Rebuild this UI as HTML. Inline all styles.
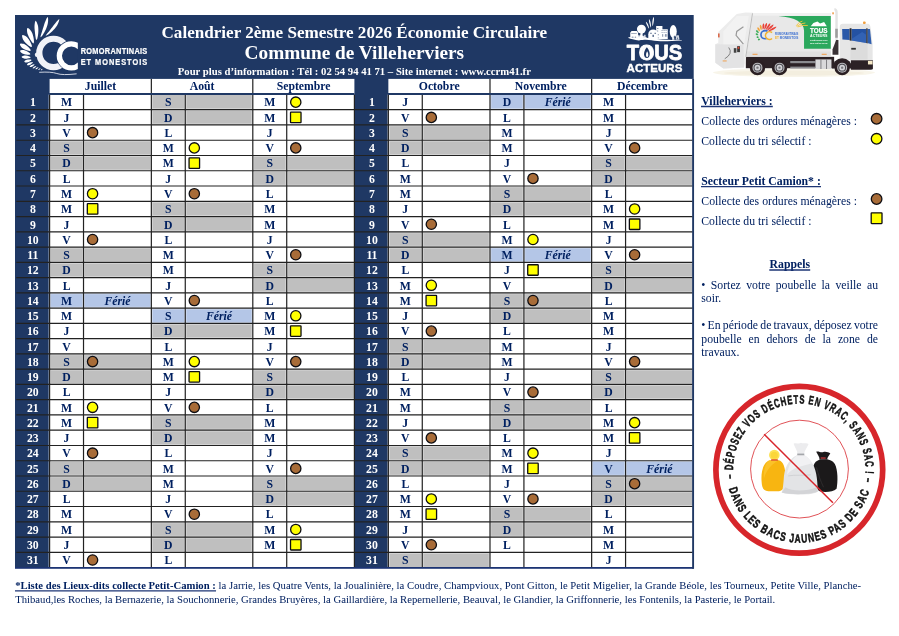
<!DOCTYPE html>
<html lang="fr">
<head>
<meta charset="utf-8">
<title>Calendrier 2ème Semestre 2026 – Commune de Villeherviers</title>
<style>
html,body{margin:0;padding:0;background:#fff}
body{width:899px;height:636px;position:relative;overflow:hidden;font-family:"Liberation Serif","DejaVu Serif",serif;color:#002060}
svg{position:absolute;left:0;top:0;display:block}
svg text{font-family:"Liberation Serif","DejaVu Serif",serif;font-size:11.745px}
svg text.b,svg tspan.b{font-weight:bold}
svg text.i{font-style:italic}
svg text.c{text-anchor:middle}
svg text.s{font-family:"Liberation Sans","DejaVu Sans",sans-serif;font-weight:bold}
</style>
</head>
<body>
<svg width="899" height="636" viewBox="0 0 899 636">
<g id="calendar">
<rect x="15" y="15" width="678.7" height="553.17" fill="#1f3864"/>
<rect x="49.6" y="78.9" width="304.8" height="488.67" fill="#fff"/>
<rect x="388.35" y="78.9" width="304.75" height="488.67" fill="#fff"/>
<rect x="49.9" y="140.54" width="33.32" height="14.66" fill="#bfbfbf"/>
<rect x="83.82" y="140.54" width="67.23" height="14.66" fill="#bfbfbf"/>
<rect x="49.9" y="155.8" width="33.32" height="14.66" fill="#bfbfbf"/>
<rect x="83.82" y="155.8" width="67.23" height="14.66" fill="#bfbfbf"/>
<rect x="49.9" y="247.37" width="33.32" height="14.66" fill="#bfbfbf"/>
<rect x="83.82" y="247.37" width="67.23" height="14.66" fill="#bfbfbf"/>
<rect x="49.9" y="262.63" width="33.32" height="14.66" fill="#bfbfbf"/>
<rect x="83.82" y="262.63" width="67.23" height="14.66" fill="#bfbfbf"/>
<rect x="49.9" y="293.16" width="33.32" height="14.66" fill="#b4c6e7"/>
<rect x="83.82" y="293.16" width="67.23" height="14.66" fill="#b4c6e7"/>
<rect x="49.9" y="354.2" width="33.32" height="14.66" fill="#bfbfbf"/>
<rect x="83.82" y="354.2" width="67.23" height="14.66" fill="#bfbfbf"/>
<rect x="49.9" y="369.47" width="33.32" height="14.66" fill="#bfbfbf"/>
<rect x="83.82" y="369.47" width="67.23" height="14.66" fill="#bfbfbf"/>
<rect x="49.9" y="461.04" width="33.32" height="14.66" fill="#bfbfbf"/>
<rect x="83.82" y="461.04" width="67.23" height="14.66" fill="#bfbfbf"/>
<rect x="49.9" y="476.3" width="33.32" height="14.66" fill="#bfbfbf"/>
<rect x="83.82" y="476.3" width="67.23" height="14.66" fill="#bfbfbf"/>
<rect x="151.65" y="94.75" width="33.32" height="14.66" fill="#bfbfbf"/>
<rect x="185.57" y="94.75" width="66.93" height="14.66" fill="#bfbfbf"/>
<rect x="151.65" y="110.01" width="33.32" height="14.66" fill="#bfbfbf"/>
<rect x="185.57" y="110.01" width="66.93" height="14.66" fill="#bfbfbf"/>
<rect x="151.65" y="201.58" width="33.32" height="14.66" fill="#bfbfbf"/>
<rect x="185.57" y="201.58" width="66.93" height="14.66" fill="#bfbfbf"/>
<rect x="151.65" y="216.85" width="33.32" height="14.66" fill="#bfbfbf"/>
<rect x="185.57" y="216.85" width="66.93" height="14.66" fill="#bfbfbf"/>
<rect x="151.65" y="308.42" width="33.32" height="14.66" fill="#b4c6e7"/>
<rect x="185.57" y="308.42" width="66.93" height="14.66" fill="#b4c6e7"/>
<rect x="151.65" y="323.68" width="33.32" height="14.66" fill="#bfbfbf"/>
<rect x="185.57" y="323.68" width="66.93" height="14.66" fill="#bfbfbf"/>
<rect x="151.65" y="415.25" width="33.32" height="14.66" fill="#bfbfbf"/>
<rect x="185.57" y="415.25" width="66.93" height="14.66" fill="#bfbfbf"/>
<rect x="151.65" y="430.51" width="33.32" height="14.66" fill="#bfbfbf"/>
<rect x="185.57" y="430.51" width="66.93" height="14.66" fill="#bfbfbf"/>
<rect x="151.65" y="522.09" width="33.32" height="14.66" fill="#bfbfbf"/>
<rect x="185.57" y="522.09" width="66.93" height="14.66" fill="#bfbfbf"/>
<rect x="151.65" y="537.35" width="33.32" height="14.66" fill="#bfbfbf"/>
<rect x="185.57" y="537.35" width="66.93" height="14.66" fill="#bfbfbf"/>
<rect x="253.1" y="155.8" width="33.32" height="14.66" fill="#bfbfbf"/>
<rect x="287.02" y="155.8" width="67.08" height="14.66" fill="#bfbfbf"/>
<rect x="253.1" y="171.06" width="33.32" height="14.66" fill="#bfbfbf"/>
<rect x="287.02" y="171.06" width="67.08" height="14.66" fill="#bfbfbf"/>
<rect x="253.1" y="262.63" width="33.32" height="14.66" fill="#bfbfbf"/>
<rect x="287.02" y="262.63" width="67.08" height="14.66" fill="#bfbfbf"/>
<rect x="253.1" y="277.89" width="33.32" height="14.66" fill="#bfbfbf"/>
<rect x="287.02" y="277.89" width="67.08" height="14.66" fill="#bfbfbf"/>
<rect x="253.1" y="369.47" width="33.32" height="14.66" fill="#bfbfbf"/>
<rect x="287.02" y="369.47" width="67.08" height="14.66" fill="#bfbfbf"/>
<rect x="253.1" y="384.73" width="33.32" height="14.66" fill="#bfbfbf"/>
<rect x="287.02" y="384.73" width="67.08" height="14.66" fill="#bfbfbf"/>
<rect x="253.1" y="476.3" width="33.32" height="14.66" fill="#bfbfbf"/>
<rect x="287.02" y="476.3" width="67.08" height="14.66" fill="#bfbfbf"/>
<rect x="253.1" y="491.56" width="33.32" height="14.66" fill="#bfbfbf"/>
<rect x="287.02" y="491.56" width="67.08" height="14.66" fill="#bfbfbf"/>
<rect x="388.65" y="125.27" width="33.32" height="14.66" fill="#bfbfbf"/>
<rect x="422.57" y="125.27" width="67.13" height="14.66" fill="#bfbfbf"/>
<rect x="388.65" y="140.54" width="33.32" height="14.66" fill="#bfbfbf"/>
<rect x="422.57" y="140.54" width="67.13" height="14.66" fill="#bfbfbf"/>
<rect x="388.65" y="232.11" width="33.32" height="14.66" fill="#bfbfbf"/>
<rect x="422.57" y="232.11" width="67.13" height="14.66" fill="#bfbfbf"/>
<rect x="388.65" y="247.37" width="33.32" height="14.66" fill="#bfbfbf"/>
<rect x="422.57" y="247.37" width="67.13" height="14.66" fill="#bfbfbf"/>
<rect x="388.65" y="338.94" width="33.32" height="14.66" fill="#bfbfbf"/>
<rect x="422.57" y="338.94" width="67.13" height="14.66" fill="#bfbfbf"/>
<rect x="388.65" y="354.2" width="33.32" height="14.66" fill="#bfbfbf"/>
<rect x="422.57" y="354.2" width="67.13" height="14.66" fill="#bfbfbf"/>
<rect x="388.65" y="445.78" width="33.32" height="14.66" fill="#bfbfbf"/>
<rect x="422.57" y="445.78" width="67.13" height="14.66" fill="#bfbfbf"/>
<rect x="388.65" y="461.04" width="33.32" height="14.66" fill="#bfbfbf"/>
<rect x="422.57" y="461.04" width="67.13" height="14.66" fill="#bfbfbf"/>
<rect x="388.65" y="552.61" width="33.32" height="14.66" fill="#bfbfbf"/>
<rect x="422.57" y="552.61" width="67.13" height="14.66" fill="#bfbfbf"/>
<rect x="490.3" y="94.75" width="33.32" height="14.66" fill="#b4c6e7"/>
<rect x="524.22" y="94.75" width="67.13" height="14.66" fill="#b4c6e7"/>
<rect x="490.3" y="186.32" width="33.32" height="14.66" fill="#bfbfbf"/>
<rect x="524.22" y="186.32" width="67.13" height="14.66" fill="#bfbfbf"/>
<rect x="490.3" y="201.58" width="33.32" height="14.66" fill="#bfbfbf"/>
<rect x="524.22" y="201.58" width="67.13" height="14.66" fill="#bfbfbf"/>
<rect x="490.3" y="247.37" width="33.32" height="14.66" fill="#b4c6e7"/>
<rect x="524.22" y="247.37" width="67.13" height="14.66" fill="#b4c6e7"/>
<rect x="490.3" y="293.16" width="33.32" height="14.66" fill="#bfbfbf"/>
<rect x="524.22" y="293.16" width="67.13" height="14.66" fill="#bfbfbf"/>
<rect x="490.3" y="308.42" width="33.32" height="14.66" fill="#bfbfbf"/>
<rect x="524.22" y="308.42" width="67.13" height="14.66" fill="#bfbfbf"/>
<rect x="490.3" y="399.99" width="33.32" height="14.66" fill="#bfbfbf"/>
<rect x="524.22" y="399.99" width="67.13" height="14.66" fill="#bfbfbf"/>
<rect x="490.3" y="415.25" width="33.32" height="14.66" fill="#bfbfbf"/>
<rect x="524.22" y="415.25" width="67.13" height="14.66" fill="#bfbfbf"/>
<rect x="490.3" y="506.82" width="33.32" height="14.66" fill="#bfbfbf"/>
<rect x="524.22" y="506.82" width="67.13" height="14.66" fill="#bfbfbf"/>
<rect x="490.3" y="522.09" width="33.32" height="14.66" fill="#bfbfbf"/>
<rect x="524.22" y="522.09" width="67.13" height="14.66" fill="#bfbfbf"/>
<rect x="591.95" y="155.8" width="33.32" height="14.66" fill="#bfbfbf"/>
<rect x="625.87" y="155.8" width="66.93" height="14.66" fill="#bfbfbf"/>
<rect x="591.95" y="171.06" width="33.32" height="14.66" fill="#bfbfbf"/>
<rect x="625.87" y="171.06" width="66.93" height="14.66" fill="#bfbfbf"/>
<rect x="591.95" y="262.63" width="33.32" height="14.66" fill="#bfbfbf"/>
<rect x="625.87" y="262.63" width="66.93" height="14.66" fill="#bfbfbf"/>
<rect x="591.95" y="277.89" width="33.32" height="14.66" fill="#bfbfbf"/>
<rect x="625.87" y="277.89" width="66.93" height="14.66" fill="#bfbfbf"/>
<rect x="591.95" y="369.47" width="33.32" height="14.66" fill="#bfbfbf"/>
<rect x="625.87" y="369.47" width="66.93" height="14.66" fill="#bfbfbf"/>
<rect x="591.95" y="384.73" width="33.32" height="14.66" fill="#bfbfbf"/>
<rect x="625.87" y="384.73" width="66.93" height="14.66" fill="#bfbfbf"/>
<rect x="591.95" y="461.04" width="33.32" height="14.66" fill="#b4c6e7"/>
<rect x="625.87" y="461.04" width="66.93" height="14.66" fill="#b4c6e7"/>
<rect x="591.95" y="476.3" width="33.32" height="14.66" fill="#bfbfbf"/>
<rect x="625.87" y="476.3" width="66.93" height="14.66" fill="#bfbfbf"/>
<rect x="591.95" y="491.56" width="33.32" height="14.66" fill="#bfbfbf"/>
<rect x="625.87" y="491.56" width="66.93" height="14.66" fill="#bfbfbf"/>
<path d="M49.6 109.71H354.4M388.35 109.71H693.1M49.6 124.97H354.4M388.35 124.97H693.1M49.6 140.24H354.4M388.35 140.24H693.1M49.6 155.5H354.4M388.35 155.5H693.1M49.6 170.76H354.4M388.35 170.76H693.1M49.6 186.02H354.4M388.35 186.02H693.1M49.6 201.28H354.4M388.35 201.28H693.1M49.6 216.55H354.4M388.35 216.55H693.1M49.6 231.81H354.4M388.35 231.81H693.1M49.6 247.07H354.4M388.35 247.07H693.1M49.6 262.33H354.4M388.35 262.33H693.1M49.6 277.59H354.4M388.35 277.59H693.1M49.6 292.86H354.4M388.35 292.86H693.1M49.6 308.12H354.4M388.35 308.12H693.1M49.6 323.38H354.4M388.35 323.38H693.1M49.6 338.64H354.4M388.35 338.64H693.1M49.6 353.9H354.4M388.35 353.9H693.1M49.6 369.17H354.4M388.35 369.17H693.1M49.6 384.43H354.4M388.35 384.43H693.1M49.6 399.69H354.4M388.35 399.69H693.1M49.6 414.95H354.4M388.35 414.95H693.1M49.6 430.21H354.4M388.35 430.21H693.1M49.6 445.48H354.4M388.35 445.48H693.1M49.6 460.74H354.4M388.35 460.74H693.1M49.6 476H354.4M388.35 476H693.1M49.6 491.26H354.4M388.35 491.26H693.1M49.6 506.52H354.4M388.35 506.52H693.1M49.6 521.79H354.4M388.35 521.79H693.1M49.6 537.05H354.4M388.35 537.05H693.1M49.6 552.31H354.4M388.35 552.31H693.1M49.6 94.45V567.57M83.52 94.45V567.57M151.35 94.45V567.57M185.27 94.45V567.57M252.8 94.45V567.57M286.72 94.45V567.57M388.35 94.45V567.57M422.27 94.45V567.57M490 94.45V567.57M523.92 94.45V567.57M591.65 94.45V567.57M625.57 94.45V567.57" stroke="#fff" stroke-opacity="0.4" stroke-width="2.7" fill="none"/>
<path d="M16.3 109.71H692.7M16.3 124.97H692.7M16.3 140.24H692.7M16.3 155.5H692.7M16.3 170.76H692.7M16.3 186.02H692.7M16.3 201.28H692.7M16.3 216.55H692.7M16.3 231.81H692.7M16.3 247.07H692.7M16.3 262.33H692.7M16.3 277.59H692.7M16.3 292.86H692.7M16.3 308.12H692.7M16.3 323.38H692.7M16.3 338.64H692.7M16.3 353.9H692.7M16.3 369.17H692.7M16.3 384.43H692.7M16.3 399.69H692.7M16.3 414.95H692.7M16.3 430.21H692.7M16.3 445.48H692.7M16.3 460.74H692.7M16.3 476H692.7M16.3 491.26H692.7M16.3 506.52H692.7M16.3 521.79H692.7M16.3 537.05H692.7M16.3 552.31H692.7" stroke="#222222" stroke-width="1.2" fill="none"/>
<path d="M49.6 94.45V567.57M83.52 94.45V567.57M151.35 78.9V567.57M185.27 94.45V567.57M252.8 78.9V567.57M286.72 94.45V567.57M388.35 94.45V567.57M422.27 94.45V567.57M490 78.9V567.57M523.92 94.45V567.57M591.65 78.9V567.57M625.57 94.45V567.57M354.4 94.45V567.57" stroke="#222222" stroke-width="1.2" fill="none"/>
<path d="M49.1 94H354.4M387.85 94H693.7" stroke="#1f3864" stroke-width="2" fill="none"/>
<path d="M15 567.87H693.7" stroke="#1c3474" stroke-width="1.8" fill="none"/>
<path d="M693.1 78.9V568.77" stroke="#1f3864" stroke-width="1.9" fill="none"/>
<text x="100.47" y="90.2" class="b c" fill="#002060">Juillet</text>
<text x="202.07" y="90.2" class="b c" fill="#002060">Août</text>
<text x="303.6" y="90.2" class="b c" fill="#002060">Septembre</text>
<text x="439.18" y="90.2" class="b c" fill="#002060">Octobre</text>
<text x="540.83" y="90.2" class="b c" fill="#002060">Novembre</text>
<text x="642.38" y="90.2" class="b c" fill="#002060">Décembre</text>
<text x="32.85" y="106.4" class="b c" fill="#fff">1</text>
<text x="32.85" y="121.66" class="b c" fill="#fff">2</text>
<text x="32.85" y="136.92" class="b c" fill="#fff">3</text>
<text x="32.85" y="152.19" class="b c" fill="#fff">4</text>
<text x="32.85" y="167.45" class="b c" fill="#fff">5</text>
<text x="32.85" y="182.71" class="b c" fill="#fff">6</text>
<text x="32.85" y="197.97" class="b c" fill="#fff">7</text>
<text x="32.85" y="213.23" class="b c" fill="#fff">8</text>
<text x="32.85" y="228.5" class="b c" fill="#fff">9</text>
<text x="32.85" y="243.76" class="b c" fill="#fff">10</text>
<text x="32.85" y="259.02" class="b c" fill="#fff">11</text>
<text x="32.85" y="274.28" class="b c" fill="#fff">12</text>
<text x="32.85" y="289.54" class="b c" fill="#fff">13</text>
<text x="32.85" y="304.81" class="b c" fill="#fff">14</text>
<text x="32.85" y="320.07" class="b c" fill="#fff">15</text>
<text x="32.85" y="335.33" class="b c" fill="#fff">16</text>
<text x="32.85" y="350.59" class="b c" fill="#fff">17</text>
<text x="32.85" y="365.85" class="b c" fill="#fff">18</text>
<text x="32.85" y="381.12" class="b c" fill="#fff">19</text>
<text x="32.85" y="396.38" class="b c" fill="#fff">20</text>
<text x="32.85" y="411.64" class="b c" fill="#fff">21</text>
<text x="32.85" y="426.9" class="b c" fill="#fff">22</text>
<text x="32.85" y="442.16" class="b c" fill="#fff">23</text>
<text x="32.85" y="457.43" class="b c" fill="#fff">24</text>
<text x="32.85" y="472.69" class="b c" fill="#fff">25</text>
<text x="32.85" y="487.95" class="b c" fill="#fff">26</text>
<text x="32.85" y="503.21" class="b c" fill="#fff">27</text>
<text x="32.85" y="518.47" class="b c" fill="#fff">28</text>
<text x="32.85" y="533.74" class="b c" fill="#fff">29</text>
<text x="32.85" y="549" class="b c" fill="#fff">30</text>
<text x="32.85" y="564.26" class="b c" fill="#fff">31</text>
<text x="371.93" y="106.4" class="b c" fill="#fff">1</text>
<text x="371.93" y="121.66" class="b c" fill="#fff">2</text>
<text x="371.93" y="136.92" class="b c" fill="#fff">3</text>
<text x="371.93" y="152.19" class="b c" fill="#fff">4</text>
<text x="371.93" y="167.45" class="b c" fill="#fff">5</text>
<text x="371.93" y="182.71" class="b c" fill="#fff">6</text>
<text x="371.93" y="197.97" class="b c" fill="#fff">7</text>
<text x="371.93" y="213.23" class="b c" fill="#fff">8</text>
<text x="371.93" y="228.5" class="b c" fill="#fff">9</text>
<text x="371.93" y="243.76" class="b c" fill="#fff">10</text>
<text x="371.93" y="259.02" class="b c" fill="#fff">11</text>
<text x="371.93" y="274.28" class="b c" fill="#fff">12</text>
<text x="371.93" y="289.54" class="b c" fill="#fff">13</text>
<text x="371.93" y="304.81" class="b c" fill="#fff">14</text>
<text x="371.93" y="320.07" class="b c" fill="#fff">15</text>
<text x="371.93" y="335.33" class="b c" fill="#fff">16</text>
<text x="371.93" y="350.59" class="b c" fill="#fff">17</text>
<text x="371.93" y="365.85" class="b c" fill="#fff">18</text>
<text x="371.93" y="381.12" class="b c" fill="#fff">19</text>
<text x="371.93" y="396.38" class="b c" fill="#fff">20</text>
<text x="371.93" y="411.64" class="b c" fill="#fff">21</text>
<text x="371.93" y="426.9" class="b c" fill="#fff">22</text>
<text x="371.93" y="442.16" class="b c" fill="#fff">23</text>
<text x="371.93" y="457.43" class="b c" fill="#fff">24</text>
<text x="371.93" y="472.69" class="b c" fill="#fff">25</text>
<text x="371.93" y="487.95" class="b c" fill="#fff">26</text>
<text x="371.93" y="503.21" class="b c" fill="#fff">27</text>
<text x="371.93" y="518.47" class="b c" fill="#fff">28</text>
<text x="371.93" y="533.74" class="b c" fill="#fff">29</text>
<text x="371.93" y="549" class="b c" fill="#fff">30</text>
<text x="371.93" y="564.26" class="b c" fill="#fff">31</text>
<text x="66.56" y="106.4" class="b c" fill="#002060">M</text>
<text x="66.56" y="121.66" class="b c" fill="#002060">J</text>
<text x="66.56" y="136.92" class="b c" fill="#002060">V</text>
<circle cx="92.57" cy="132.66" r="5.15" fill="#a86c38" stroke="#0d0d12" stroke-width="1.3"/>
<text x="66.56" y="152.19" class="b c" fill="#002060">S</text>
<text x="66.56" y="167.45" class="b c" fill="#002060">D</text>
<text x="66.56" y="182.71" class="b c" fill="#002060">L</text>
<text x="66.56" y="197.97" class="b c" fill="#002060">M</text>
<circle cx="92.57" cy="193.7" r="5.15" fill="#ffff00" stroke="#0d0d12" stroke-width="1.3"/>
<text x="66.56" y="213.23" class="b c" fill="#002060">M</text>
<rect x="87.32" y="203.72" width="10.5" height="10.5" rx="0.5" fill="#ffff00" stroke="#0d0d12" stroke-width="1.3"/>
<text x="66.56" y="228.5" class="b c" fill="#002060">J</text>
<text x="66.56" y="243.76" class="b c" fill="#002060">V</text>
<circle cx="92.57" cy="239.49" r="5.15" fill="#a86c38" stroke="#0d0d12" stroke-width="1.3"/>
<text x="66.56" y="259.02" class="b c" fill="#002060">S</text>
<text x="66.56" y="274.28" class="b c" fill="#002060">D</text>
<text x="66.56" y="289.54" class="b c" fill="#002060">L</text>
<text x="66.56" y="304.81" class="b c" fill="#002060">M</text>
<text x="117.44" y="304.81" class="b i c" fill="#002060">Férié</text>
<text x="66.56" y="320.07" class="b c" fill="#002060">M</text>
<text x="66.56" y="335.33" class="b c" fill="#002060">J</text>
<text x="66.56" y="350.59" class="b c" fill="#002060">V</text>
<text x="66.56" y="365.85" class="b c" fill="#002060">S</text>
<circle cx="92.57" cy="361.58" r="5.15" fill="#a86c38" stroke="#0d0d12" stroke-width="1.3"/>
<text x="66.56" y="381.12" class="b c" fill="#002060">D</text>
<text x="66.56" y="396.38" class="b c" fill="#002060">L</text>
<text x="66.56" y="411.64" class="b c" fill="#002060">M</text>
<circle cx="92.57" cy="407.37" r="5.15" fill="#ffff00" stroke="#0d0d12" stroke-width="1.3"/>
<text x="66.56" y="426.9" class="b c" fill="#002060">M</text>
<rect x="87.32" y="417.38" width="10.5" height="10.5" rx="0.5" fill="#ffff00" stroke="#0d0d12" stroke-width="1.3"/>
<text x="66.56" y="442.16" class="b c" fill="#002060">J</text>
<text x="66.56" y="457.43" class="b c" fill="#002060">V</text>
<circle cx="92.57" cy="453.16" r="5.15" fill="#a86c38" stroke="#0d0d12" stroke-width="1.3"/>
<text x="66.56" y="472.69" class="b c" fill="#002060">S</text>
<text x="66.56" y="487.95" class="b c" fill="#002060">D</text>
<text x="66.56" y="503.21" class="b c" fill="#002060">L</text>
<text x="66.56" y="518.47" class="b c" fill="#002060">M</text>
<text x="66.56" y="533.74" class="b c" fill="#002060">M</text>
<text x="66.56" y="549" class="b c" fill="#002060">J</text>
<text x="66.56" y="564.26" class="b c" fill="#002060">V</text>
<circle cx="92.57" cy="559.99" r="5.15" fill="#a86c38" stroke="#0d0d12" stroke-width="1.3"/>
<text x="168.31" y="106.4" class="b c" fill="#002060">S</text>
<text x="168.31" y="121.66" class="b c" fill="#002060">D</text>
<text x="168.31" y="136.92" class="b c" fill="#002060">L</text>
<text x="168.31" y="152.19" class="b c" fill="#002060">M</text>
<circle cx="194.32" cy="147.92" r="5.15" fill="#ffff00" stroke="#0d0d12" stroke-width="1.3"/>
<text x="168.31" y="167.45" class="b c" fill="#002060">M</text>
<rect x="189.07" y="157.93" width="10.5" height="10.5" rx="0.5" fill="#ffff00" stroke="#0d0d12" stroke-width="1.3"/>
<text x="168.31" y="182.71" class="b c" fill="#002060">J</text>
<text x="168.31" y="197.97" class="b c" fill="#002060">V</text>
<circle cx="194.32" cy="193.7" r="5.15" fill="#a86c38" stroke="#0d0d12" stroke-width="1.3"/>
<text x="168.31" y="213.23" class="b c" fill="#002060">S</text>
<text x="168.31" y="228.5" class="b c" fill="#002060">D</text>
<text x="168.31" y="243.76" class="b c" fill="#002060">L</text>
<text x="168.31" y="259.02" class="b c" fill="#002060">M</text>
<text x="168.31" y="274.28" class="b c" fill="#002060">M</text>
<text x="168.31" y="289.54" class="b c" fill="#002060">J</text>
<text x="168.31" y="304.81" class="b c" fill="#002060">V</text>
<circle cx="194.32" cy="300.54" r="5.15" fill="#a86c38" stroke="#0d0d12" stroke-width="1.3"/>
<text x="168.31" y="320.07" class="b c" fill="#002060">S</text>
<text x="219.03" y="320.07" class="b i c" fill="#002060">Férié</text>
<text x="168.31" y="335.33" class="b c" fill="#002060">D</text>
<text x="168.31" y="350.59" class="b c" fill="#002060">L</text>
<text x="168.31" y="365.85" class="b c" fill="#002060">M</text>
<circle cx="194.32" cy="361.58" r="5.15" fill="#ffff00" stroke="#0d0d12" stroke-width="1.3"/>
<text x="168.31" y="381.12" class="b c" fill="#002060">M</text>
<rect x="189.07" y="371.6" width="10.5" height="10.5" rx="0.5" fill="#ffff00" stroke="#0d0d12" stroke-width="1.3"/>
<text x="168.31" y="396.38" class="b c" fill="#002060">J</text>
<text x="168.31" y="411.64" class="b c" fill="#002060">V</text>
<circle cx="194.32" cy="407.37" r="5.15" fill="#a86c38" stroke="#0d0d12" stroke-width="1.3"/>
<text x="168.31" y="426.9" class="b c" fill="#002060">S</text>
<text x="168.31" y="442.16" class="b c" fill="#002060">D</text>
<text x="168.31" y="457.43" class="b c" fill="#002060">L</text>
<text x="168.31" y="472.69" class="b c" fill="#002060">M</text>
<text x="168.31" y="487.95" class="b c" fill="#002060">M</text>
<text x="168.31" y="503.21" class="b c" fill="#002060">J</text>
<text x="168.31" y="518.47" class="b c" fill="#002060">V</text>
<circle cx="194.32" cy="514.2" r="5.15" fill="#a86c38" stroke="#0d0d12" stroke-width="1.3"/>
<text x="168.31" y="533.74" class="b c" fill="#002060">S</text>
<text x="168.31" y="549" class="b c" fill="#002060">D</text>
<text x="168.31" y="564.26" class="b c" fill="#002060">L</text>
<text x="269.76" y="106.4" class="b c" fill="#002060">M</text>
<circle cx="295.77" cy="102.13" r="5.15" fill="#ffff00" stroke="#0d0d12" stroke-width="1.3"/>
<text x="269.76" y="121.66" class="b c" fill="#002060">M</text>
<rect x="290.52" y="112.14" width="10.5" height="10.5" rx="0.5" fill="#ffff00" stroke="#0d0d12" stroke-width="1.3"/>
<text x="269.76" y="136.92" class="b c" fill="#002060">J</text>
<text x="269.76" y="152.19" class="b c" fill="#002060">V</text>
<circle cx="295.77" cy="147.92" r="5.15" fill="#a86c38" stroke="#0d0d12" stroke-width="1.3"/>
<text x="269.76" y="167.45" class="b c" fill="#002060">S</text>
<text x="269.76" y="182.71" class="b c" fill="#002060">D</text>
<text x="269.76" y="197.97" class="b c" fill="#002060">L</text>
<text x="269.76" y="213.23" class="b c" fill="#002060">M</text>
<text x="269.76" y="228.5" class="b c" fill="#002060">M</text>
<text x="269.76" y="243.76" class="b c" fill="#002060">J</text>
<text x="269.76" y="259.02" class="b c" fill="#002060">V</text>
<circle cx="295.77" cy="254.75" r="5.15" fill="#a86c38" stroke="#0d0d12" stroke-width="1.3"/>
<text x="269.76" y="274.28" class="b c" fill="#002060">S</text>
<text x="269.76" y="289.54" class="b c" fill="#002060">D</text>
<text x="269.76" y="304.81" class="b c" fill="#002060">L</text>
<text x="269.76" y="320.07" class="b c" fill="#002060">M</text>
<circle cx="295.77" cy="315.8" r="5.15" fill="#ffff00" stroke="#0d0d12" stroke-width="1.3"/>
<text x="269.76" y="335.33" class="b c" fill="#002060">M</text>
<rect x="290.52" y="325.81" width="10.5" height="10.5" rx="0.5" fill="#ffff00" stroke="#0d0d12" stroke-width="1.3"/>
<text x="269.76" y="350.59" class="b c" fill="#002060">J</text>
<text x="269.76" y="365.85" class="b c" fill="#002060">V</text>
<circle cx="295.77" cy="361.58" r="5.15" fill="#a86c38" stroke="#0d0d12" stroke-width="1.3"/>
<text x="269.76" y="381.12" class="b c" fill="#002060">S</text>
<text x="269.76" y="396.38" class="b c" fill="#002060">D</text>
<text x="269.76" y="411.64" class="b c" fill="#002060">L</text>
<text x="269.76" y="426.9" class="b c" fill="#002060">M</text>
<text x="269.76" y="442.16" class="b c" fill="#002060">M</text>
<text x="269.76" y="457.43" class="b c" fill="#002060">J</text>
<text x="269.76" y="472.69" class="b c" fill="#002060">V</text>
<circle cx="295.77" cy="468.42" r="5.15" fill="#a86c38" stroke="#0d0d12" stroke-width="1.3"/>
<text x="269.76" y="487.95" class="b c" fill="#002060">S</text>
<text x="269.76" y="503.21" class="b c" fill="#002060">D</text>
<text x="269.76" y="518.47" class="b c" fill="#002060">L</text>
<text x="269.76" y="533.74" class="b c" fill="#002060">M</text>
<circle cx="295.77" cy="529.47" r="5.15" fill="#ffff00" stroke="#0d0d12" stroke-width="1.3"/>
<text x="269.76" y="549" class="b c" fill="#002060">M</text>
<rect x="290.52" y="539.48" width="10.5" height="10.5" rx="0.5" fill="#ffff00" stroke="#0d0d12" stroke-width="1.3"/>
<text x="405.31" y="106.4" class="b c" fill="#002060">J</text>
<text x="405.31" y="121.66" class="b c" fill="#002060">V</text>
<circle cx="431.32" cy="117.39" r="5.15" fill="#a86c38" stroke="#0d0d12" stroke-width="1.3"/>
<text x="405.31" y="136.92" class="b c" fill="#002060">S</text>
<text x="405.31" y="152.19" class="b c" fill="#002060">D</text>
<text x="405.31" y="167.45" class="b c" fill="#002060">L</text>
<text x="405.31" y="182.71" class="b c" fill="#002060">M</text>
<text x="405.31" y="197.97" class="b c" fill="#002060">M</text>
<text x="405.31" y="213.23" class="b c" fill="#002060">J</text>
<text x="405.31" y="228.5" class="b c" fill="#002060">V</text>
<circle cx="431.32" cy="224.23" r="5.15" fill="#a86c38" stroke="#0d0d12" stroke-width="1.3"/>
<text x="405.31" y="243.76" class="b c" fill="#002060">S</text>
<text x="405.31" y="259.02" class="b c" fill="#002060">D</text>
<text x="405.31" y="274.28" class="b c" fill="#002060">L</text>
<text x="405.31" y="289.54" class="b c" fill="#002060">M</text>
<circle cx="431.32" cy="285.28" r="5.15" fill="#ffff00" stroke="#0d0d12" stroke-width="1.3"/>
<text x="405.31" y="304.81" class="b c" fill="#002060">M</text>
<rect x="426.07" y="295.29" width="10.5" height="10.5" rx="0.5" fill="#ffff00" stroke="#0d0d12" stroke-width="1.3"/>
<text x="405.31" y="320.07" class="b c" fill="#002060">J</text>
<text x="405.31" y="335.33" class="b c" fill="#002060">V</text>
<circle cx="431.32" cy="331.06" r="5.15" fill="#a86c38" stroke="#0d0d12" stroke-width="1.3"/>
<text x="405.31" y="350.59" class="b c" fill="#002060">S</text>
<text x="405.31" y="365.85" class="b c" fill="#002060">D</text>
<text x="405.31" y="381.12" class="b c" fill="#002060">L</text>
<text x="405.31" y="396.38" class="b c" fill="#002060">M</text>
<text x="405.31" y="411.64" class="b c" fill="#002060">M</text>
<text x="405.31" y="426.9" class="b c" fill="#002060">J</text>
<text x="405.31" y="442.16" class="b c" fill="#002060">V</text>
<circle cx="431.32" cy="437.9" r="5.15" fill="#a86c38" stroke="#0d0d12" stroke-width="1.3"/>
<text x="405.31" y="457.43" class="b c" fill="#002060">S</text>
<text x="405.31" y="472.69" class="b c" fill="#002060">D</text>
<text x="405.31" y="487.95" class="b c" fill="#002060">L</text>
<text x="405.31" y="503.21" class="b c" fill="#002060">M</text>
<circle cx="431.32" cy="498.94" r="5.15" fill="#ffff00" stroke="#0d0d12" stroke-width="1.3"/>
<text x="405.31" y="518.47" class="b c" fill="#002060">M</text>
<rect x="426.07" y="508.95" width="10.5" height="10.5" rx="0.5" fill="#ffff00" stroke="#0d0d12" stroke-width="1.3"/>
<text x="405.31" y="533.74" class="b c" fill="#002060">J</text>
<text x="405.31" y="549" class="b c" fill="#002060">V</text>
<circle cx="431.32" cy="544.73" r="5.15" fill="#a86c38" stroke="#0d0d12" stroke-width="1.3"/>
<text x="405.31" y="564.26" class="b c" fill="#002060">S</text>
<text x="506.96" y="106.4" class="b c" fill="#002060">D</text>
<text x="557.78" y="106.4" class="b i c" fill="#002060">Férié</text>
<text x="506.96" y="121.66" class="b c" fill="#002060">L</text>
<text x="506.96" y="136.92" class="b c" fill="#002060">M</text>
<text x="506.96" y="152.19" class="b c" fill="#002060">M</text>
<text x="506.96" y="167.45" class="b c" fill="#002060">J</text>
<text x="506.96" y="182.71" class="b c" fill="#002060">V</text>
<circle cx="532.97" cy="178.44" r="5.15" fill="#a86c38" stroke="#0d0d12" stroke-width="1.3"/>
<text x="506.96" y="197.97" class="b c" fill="#002060">S</text>
<text x="506.96" y="213.23" class="b c" fill="#002060">D</text>
<text x="506.96" y="228.5" class="b c" fill="#002060">L</text>
<text x="506.96" y="243.76" class="b c" fill="#002060">M</text>
<circle cx="532.97" cy="239.49" r="5.15" fill="#ffff00" stroke="#0d0d12" stroke-width="1.3"/>
<text x="506.96" y="259.02" class="b c" fill="#002060">M</text>
<text x="557.78" y="259.02" class="b i c" fill="#002060">Férié</text>
<text x="506.96" y="274.28" class="b c" fill="#002060">J</text>
<rect x="527.72" y="264.76" width="10.5" height="10.5" rx="0.5" fill="#ffff00" stroke="#0d0d12" stroke-width="1.3"/>
<text x="506.96" y="289.54" class="b c" fill="#002060">V</text>
<text x="506.96" y="304.81" class="b c" fill="#002060">S</text>
<circle cx="532.97" cy="300.54" r="5.15" fill="#a86c38" stroke="#0d0d12" stroke-width="1.3"/>
<text x="506.96" y="320.07" class="b c" fill="#002060">D</text>
<text x="506.96" y="335.33" class="b c" fill="#002060">L</text>
<text x="506.96" y="350.59" class="b c" fill="#002060">M</text>
<text x="506.96" y="365.85" class="b c" fill="#002060">M</text>
<text x="506.96" y="381.12" class="b c" fill="#002060">J</text>
<text x="506.96" y="396.38" class="b c" fill="#002060">V</text>
<circle cx="532.97" cy="392.11" r="5.15" fill="#a86c38" stroke="#0d0d12" stroke-width="1.3"/>
<text x="506.96" y="411.64" class="b c" fill="#002060">S</text>
<text x="506.96" y="426.9" class="b c" fill="#002060">D</text>
<text x="506.96" y="442.16" class="b c" fill="#002060">L</text>
<text x="506.96" y="457.43" class="b c" fill="#002060">M</text>
<circle cx="532.97" cy="453.16" r="5.15" fill="#ffff00" stroke="#0d0d12" stroke-width="1.3"/>
<text x="506.96" y="472.69" class="b c" fill="#002060">M</text>
<rect x="527.72" y="463.17" width="10.5" height="10.5" rx="0.5" fill="#ffff00" stroke="#0d0d12" stroke-width="1.3"/>
<text x="506.96" y="487.95" class="b c" fill="#002060">J</text>
<text x="506.96" y="503.21" class="b c" fill="#002060">V</text>
<circle cx="532.97" cy="498.94" r="5.15" fill="#a86c38" stroke="#0d0d12" stroke-width="1.3"/>
<text x="506.96" y="518.47" class="b c" fill="#002060">S</text>
<text x="506.96" y="533.74" class="b c" fill="#002060">D</text>
<text x="506.96" y="549" class="b c" fill="#002060">L</text>
<text x="608.61" y="106.4" class="b c" fill="#002060">M</text>
<text x="608.61" y="121.66" class="b c" fill="#002060">M</text>
<text x="608.61" y="136.92" class="b c" fill="#002060">J</text>
<text x="608.61" y="152.19" class="b c" fill="#002060">V</text>
<circle cx="634.62" cy="147.92" r="5.15" fill="#a86c38" stroke="#0d0d12" stroke-width="1.3"/>
<text x="608.61" y="167.45" class="b c" fill="#002060">S</text>
<text x="608.61" y="182.71" class="b c" fill="#002060">D</text>
<text x="608.61" y="197.97" class="b c" fill="#002060">L</text>
<text x="608.61" y="213.23" class="b c" fill="#002060">M</text>
<circle cx="634.62" cy="208.97" r="5.15" fill="#ffff00" stroke="#0d0d12" stroke-width="1.3"/>
<text x="608.61" y="228.5" class="b c" fill="#002060">M</text>
<rect x="629.37" y="218.98" width="10.5" height="10.5" rx="0.5" fill="#ffff00" stroke="#0d0d12" stroke-width="1.3"/>
<text x="608.61" y="243.76" class="b c" fill="#002060">J</text>
<text x="608.61" y="259.02" class="b c" fill="#002060">V</text>
<circle cx="634.62" cy="254.75" r="5.15" fill="#a86c38" stroke="#0d0d12" stroke-width="1.3"/>
<text x="608.61" y="274.28" class="b c" fill="#002060">S</text>
<text x="608.61" y="289.54" class="b c" fill="#002060">D</text>
<text x="608.61" y="304.81" class="b c" fill="#002060">L</text>
<text x="608.61" y="320.07" class="b c" fill="#002060">M</text>
<text x="608.61" y="335.33" class="b c" fill="#002060">M</text>
<text x="608.61" y="350.59" class="b c" fill="#002060">J</text>
<text x="608.61" y="365.85" class="b c" fill="#002060">V</text>
<circle cx="634.62" cy="361.58" r="5.15" fill="#a86c38" stroke="#0d0d12" stroke-width="1.3"/>
<text x="608.61" y="381.12" class="b c" fill="#002060">S</text>
<text x="608.61" y="396.38" class="b c" fill="#002060">D</text>
<text x="608.61" y="411.64" class="b c" fill="#002060">L</text>
<text x="608.61" y="426.9" class="b c" fill="#002060">M</text>
<circle cx="634.62" cy="422.63" r="5.15" fill="#ffff00" stroke="#0d0d12" stroke-width="1.3"/>
<text x="608.61" y="442.16" class="b c" fill="#002060">M</text>
<rect x="629.37" y="432.65" width="10.5" height="10.5" rx="0.5" fill="#ffff00" stroke="#0d0d12" stroke-width="1.3"/>
<text x="608.61" y="457.43" class="b c" fill="#002060">J</text>
<text x="608.61" y="472.69" class="b c" fill="#002060">V</text>
<text x="659.34" y="472.69" class="b i c" fill="#002060">Férié</text>
<text x="608.61" y="487.95" class="b c" fill="#002060">S</text>
<circle cx="634.62" cy="483.68" r="5.15" fill="#a86c38" stroke="#0d0d12" stroke-width="1.3"/>
<text x="608.61" y="503.21" class="b c" fill="#002060">D</text>
<text x="608.61" y="518.47" class="b c" fill="#002060">L</text>
<text x="608.61" y="533.74" class="b c" fill="#002060">M</text>
<text x="608.61" y="549" class="b c" fill="#002060">M</text>
<text x="608.61" y="564.26" class="b c" fill="#002060">J</text>
</g>
<g id="header">
<text x="354.35" y="38" class="b c" fill="#fff" style="font-size:17.1px">Calendrier 2ème Semestre 2026 Économie Circulaire</text>
<text x="354.35" y="59" class="b c" fill="#fff" style="font-size:19.3px">Commune de Villeherviers</text>
<text x="354.35" y="75" class="b c" fill="#fff" style="font-size:10.7px">Pour plus d’information : Tél : 02 54 94 41 71 – Site internet : www.ccrm41.fr</text>
<path d="M45.86 35.71L47.37 35.09L48.67 34.21L49.92 33.26L51.12 32.27L52.28 31.22L53.38 30.11L54.43 28.96L55.43 27.76L56.37 26.51L57.2 25.18L57.93 23.79L58.55 22.34L59.07 20.84L59.3 19.19L59.17 19.12L57.92 20.18L56.89 21.34L55.89 22.49L54.94 23.64L54.02 24.81L53.14 26L52.25 27.18L51.35 28.36L50.44 29.54L49.51 30.71L48.56 31.88L47.59 33.05L46.61 34.22L45.77 35.6ZM40.6 37.35L41.83 36.23L42.75 34.93L43.61 33.6L44.4 32.23L45.14 30.83L45.81 29.4L46.42 27.94L46.96 26.46L47.44 24.95L47.79 23.41L48.02 21.84L48.13 20.24L48.12 18.63L47.76 16.97L47.61 16.94L46.66 18.34L46.01 19.76L45.4 21.18L44.84 22.6L44.34 24.03L43.9 25.46L43.45 26.9L43.01 28.34L42.56 29.78L42.1 31.23L41.64 32.69L41.16 34.16L40.69 35.64L40.46 37.27ZM36.55 40.07L37.28 38.71L37.61 37.33L37.88 35.94L38.09 34.54L38.24 33.14L38.33 31.73L38.36 30.32L38.34 28.92L38.24 27.51L38.03 26.12L37.68 24.74L37.21 23.39L36.63 22.05L35.67 20.79L35.49 20.82L34.93 22.29L34.72 23.7L34.57 25.08L34.49 26.45L34.51 27.8L34.61 29.15L34.73 30.49L34.86 31.84L35.02 33.18L35.19 34.54L35.37 35.9L35.57 37.26L35.79 38.64L36.37 40.05ZM33.59 43.33L33.99 41.95L33.93 40.71L33.81 39.48L33.63 38.28L33.4 37.08L33.12 35.9L32.79 34.75L32.39 33.61L31.94 32.49L31.37 31.43L30.66 30.43L29.83 29.48L28.89 28.59L27.54 27.91L27.33 28L26.97 29.47L27.01 30.74L27.14 31.96L27.36 33.13L27.7 34.25L28.14 35.32L28.63 36.38L29.15 37.43L29.7 38.46L30.28 39.49L30.9 40.51L31.56 41.52L32.25 42.52L33.38 43.4ZM31.82 46.92L31.82 45.55L31.44 44.47L31.01 43.43L30.53 42.42L30.02 41.43L29.47 40.48L28.88 39.55L28.24 38.66L27.56 37.81L26.77 37.04L25.88 36.36L24.88 35.76L23.8 35.24L22.35 35.03L22.17 35.18L22.11 36.64L22.41 37.8L22.8 38.88L23.27 39.88L23.85 40.8L24.53 41.63L25.25 42.44L26.01 43.22L26.8 43.97L27.62 44.69L28.48 45.39L29.38 46.06L30.31 46.71L31.63 47.06ZM30.79 50.64L30.44 49.5L29.84 48.74L29.22 48.02L28.57 47.34L27.9 46.69L27.21 46.08L26.49 45.51L25.75 44.97L24.98 44.48L24.15 44.09L23.25 43.81L22.29 43.63L21.27 43.54L20.01 43.82L19.89 44L20.18 45.26L20.7 46.14L21.27 46.94L21.91 47.63L22.62 48.22L23.39 48.7L24.19 49.14L25.02 49.54L25.87 49.91L26.74 50.23L27.63 50.53L28.55 50.78L29.49 50.99L30.68 50.83ZM30.44 54.17L29.91 53.26L29.25 52.74L28.58 52.26L27.9 51.81L27.21 51.4L26.5 51.03L25.79 50.69L25.06 50.39L24.31 50.14L23.53 49.98L22.71 49.94L21.86 49.99L20.99 50.13L19.98 50.64L19.92 50.82L20.41 51.84L21.03 52.48L21.67 53.04L22.35 53.5L23.06 53.84L23.81 54.09L24.57 54.3L25.35 54.47L26.13 54.59L26.93 54.69L27.75 54.74L28.57 54.77L29.41 54.74L30.38 54.35ZM30.63 57.26L30.01 56.66L29.38 56.39L28.75 56.16L28.11 55.96L27.47 55.79L26.83 55.65L26.19 55.55L25.55 55.47L24.9 55.44L24.26 55.49L23.6 55.64L22.94 55.88L22.28 56.19L21.61 56.82L21.6 56.98L22.21 57.67L22.84 58.04L23.47 58.34L24.11 58.55L24.75 58.67L25.39 58.7L26.04 58.69L26.69 58.64L27.34 58.57L27.99 58.46L28.64 58.33L29.29 58.16L29.95 57.95L30.62 57.42ZM31.49 59.91L30.86 59.58L30.29 59.51L29.73 59.47L29.18 59.46L28.64 59.47L28.1 59.51L27.56 59.57L27.04 59.66L26.52 59.79L26.01 59.98L25.53 60.26L25.07 60.6L24.61 61L24.23 61.67L24.26 61.8L24.91 62.22L25.5 62.38L26.07 62.47L26.62 62.49L27.16 62.43L27.68 62.3L28.19 62.15L28.69 61.96L29.19 61.75L29.68 61.51L30.16 61.24L30.64 60.95L31.12 60.63L31.52 60.04ZM32.8 62.24L32.22 62.08L31.72 62.13L31.24 62.21L30.77 62.3L30.3 62.41L29.85 62.54L29.4 62.69L28.97 62.86L28.54 63.05L28.14 63.3L27.77 63.61L27.42 63.97L27.1 64.38L26.86 64.99L26.91 65.09L27.52 65.31L28.05 65.32L28.55 65.29L29.02 65.2L29.47 65.06L29.89 64.86L30.31 64.64L30.71 64.4L31.1 64.14L31.49 63.85L31.86 63.55L32.23 63.23L32.59 62.89L32.85 62.34ZM34.46 64.34L33.97 64.26L33.57 64.33L33.18 64.42L32.79 64.52L32.41 64.63L32.04 64.77L31.67 64.91L31.32 65.07L30.97 65.25L30.65 65.47L30.34 65.74L30.06 66.04L29.8 66.38L29.62 66.87L29.65 66.95L30.16 67.08L30.59 67.06L31 67L31.39 66.9L31.76 66.76L32.1 66.58L32.44 66.38L32.77 66.16L33.09 65.93L33.4 65.69L33.7 65.43L34 65.15L34.29 64.86L34.5 64.42ZM36.22 66.11L35.84 66.07L35.53 66.14L35.22 66.22L34.93 66.32L34.64 66.43L34.35 66.54L34.08 66.67L33.81 66.82L33.55 66.97L33.31 67.16L33.09 67.38L32.89 67.64L32.7 67.92L32.59 68.31L32.62 68.37L33.03 68.45L33.36 68.42L33.68 68.36L33.98 68.26L34.26 68.14L34.51 67.98L34.77 67.81L35.01 67.62L35.24 67.43L35.47 67.22L35.7 67L35.91 66.77L36.12 66.53L36.26 66.17ZM38.31 67.33L37.99 67.29L37.74 67.35L37.5 67.42L37.26 67.5L37.03 67.59L36.8 67.69L36.58 67.8L36.37 67.92L36.16 68.06L35.98 68.21L35.81 68.4L35.66 68.62L35.52 68.86L35.45 69.2L35.48 69.25L35.82 69.32L36.1 69.29L36.35 69.24L36.59 69.16L36.82 69.05L37.02 68.92L37.22 68.77L37.4 68.61L37.59 68.45L37.76 68.27L37.93 68.09L38.1 67.89L38.25 67.68L38.34 67.37ZM40.51 68.21L40.25 68.19L40.05 68.24L39.85 68.31L39.66 68.39L39.48 68.47L39.3 68.56L39.13 68.66L38.97 68.77L38.81 68.88L38.67 69.02L38.54 69.19L38.44 69.37L38.35 69.58L38.31 69.86L38.34 69.9L38.63 69.95L38.85 69.92L39.06 69.87L39.25 69.8L39.42 69.7L39.58 69.58L39.73 69.45L39.87 69.32L40.01 69.17L40.14 69.02L40.26 68.86L40.38 68.69L40.49 68.51L40.54 68.25ZM42.5 68.88L42.29 68.86L42.14 68.9L41.99 68.96L41.86 69.02L41.72 69.08L41.59 69.16L41.47 69.24L41.35 69.32L41.24 69.42L41.15 69.53L41.07 69.66L41 69.81L40.95 69.97L40.96 70.2L40.98 70.23L41.21 70.27L41.38 70.24L41.53 70.2L41.67 70.14L41.8 70.06L41.91 69.97L42.01 69.87L42.11 69.76L42.2 69.64L42.28 69.52L42.37 69.39L42.44 69.26L42.51 69.11L42.52 68.91Z" fill="#fff"/>
<circle cx="53.51" cy="52.94" r="14.2" fill="none" stroke="#f1f2f7" stroke-width="6.2"/>
<circle cx="37.01" cy="54.7" r="2.2" fill="#eef0f6"/>
<clipPath id="c2clip"><rect x="0" y="0" width="77.83" height="100"/></clipPath>
<circle cx="71.34" cy="55.8" r="15.2" fill="#1f3864" clip-path="url(#c2clip)"/>
<circle cx="71.34" cy="55.8" r="12" fill="none" stroke="#fff" stroke-width="5.3" clip-path="url(#c2clip)"/>
<path d="M39.21 72.3Q51.31 71.54 56.82 73.51T76.62 73.84" fill="none" stroke="#dfe3ee" stroke-width="0.9"/>
<g transform="translate(80.7 53.7) scale(0.9 1)"><text x="0" y="0" class="s" fill="#fff" stroke="#fff" stroke-width="0.2" style="font-size:8.2px" textLength="74" lengthAdjust="spacing">ROMORANTINAIS</text></g>
<g transform="translate(80.7 65) scale(0.9 1)"><text x="0" y="0" class="s" fill="#fff" stroke="#fff" stroke-width="0.2" style="font-size:8.2px" textLength="73.8" lengthAdjust="spacing">ET MONESTOIS</text></g>
<path d="M 628.41 37.35 C 638.23 36.06 647.49 37.84 656.74 38.91 C 663.86 39.77 673.82 39.77 681.79 40.48 L 681.79 41.05 C 673.82 40.9 663.86 41.62 657.45 41.05 C 651.05 40.48 647.49 38.91 638.95 40.48 C 634.68 39.62 630.41 38.91 628.41 37.91 Z" fill="#fff"/>
<path d="M 630.26 32.65 L 631.47 31.08 L 636.81 31.08 L 638.09 32.65 L 638.09 37.84 L 630.26 37.84 Z" fill="#fff"/>
<ellipse cx="641.44" cy="29.09" rx="4.5" ry="4.3" fill="#fff"/>
<path d="M 640.51 32.51 L 642.65 32.51 L 643.07 37.84 L 639.8 37.84 Z" fill="#fff"/>
<path d="M 638.23 34.64 L 645.35 34.64 L 646.78 38.2 L 637.52 38.2 Z" fill="#fff" opacity="0.85"/>
<path d="M649.08 28.58L649.09 27.99L648.98 27.45L648.84 26.92L648.69 26.39L648.53 25.87L648.35 25.35L648.15 24.84L647.93 24.33L647.7 23.84L647.44 23.36L647.13 22.9L646.79 22.46L646.43 22.03L645.95 21.67L645.9 21.7L645.92 22.3L646.06 22.84L646.21 23.36L646.38 23.87L646.59 24.37L646.82 24.86L647.05 25.34L647.3 25.81L647.55 26.29L647.81 26.76L648.08 27.23L648.35 27.7L648.63 28.17L649.03 28.6ZM650.93 27.52L651.05 26.87L651.04 26.25L651 25.63L650.95 25.01L650.88 24.39L650.8 23.78L650.69 23.17L650.57 22.56L650.44 21.96L650.26 21.36L650.04 20.78L649.79 20.21L649.5 19.64L649.08 19.12L649.02 19.13L648.92 19.79L648.94 20.42L648.99 21.04L649.06 21.65L649.17 22.25L649.31 22.85L649.46 23.44L649.62 24.03L649.79 24.62L649.96 25.2L650.15 25.79L650.34 26.38L650.54 26.96L650.87 27.53ZM652.65 26.1L652.93 25.47L653.08 24.82L653.23 24.18L653.36 23.54L653.49 22.9L653.61 22.25L653.71 21.61L653.81 20.97L653.9 20.32L653.96 19.67L653.99 19.02L653.98 18.36L653.95 17.69L653.78 17L653.72 16.98L653.33 17.58L653.08 18.21L652.86 18.84L652.69 19.48L652.56 20.13L652.47 20.79L652.4 21.45L652.35 22.11L652.32 22.77L652.31 23.43L652.32 24.09L652.34 24.76L652.39 25.42L652.58 26.1Z" fill="#fff"/>
<path d="M648.28 38.88V34.28A4.9 4.9 0 0 1 658.08 34.28V38.88Z" fill="#fff"/>
<path d="M 656.17 25.96 L 662.43 25.96 L 662.43 29.3 L 667.77 29.3 L 667.77 38.91 L 656.17 38.91 Z" fill="#fff"/>
<ellipse cx="673.25" cy="31.44" rx="3.5" ry="6.4" fill="#fff"/>
<path d="M 672.4 36.78 L 674.25 36.78 L 674.53 39.77 L 672.11 39.77 Z" fill="#fff"/>
<path d="M 676.31 35.35 L 678.8 35.35 L 679.52 39.77 L 675.6 39.77 Z" fill="#fff" opacity="0.8"/>
<rect x="657.31" y="27.88" width="1" height="1.14" rx="0.3" fill="#1f3864" opacity="0.8"/>
<rect x="657.31" y="30.51" width="0.85" height="1" rx="0.3" fill="#1f3864" opacity="0.8"/>
<rect x="657.81" y="34.28" width="0.85" height="1" rx="0.3" fill="#1f3864" opacity="0.8"/>
<rect x="657.81" y="37.49" width="0.85" height="0.85" rx="0.3" fill="#1f3864" opacity="0.8"/>
<rect x="661.58" y="30.23" width="1" height="0.71" rx="0.3" fill="#1f3864" opacity="0.8"/>
<rect x="663.57" y="30.23" width="1" height="0.71" rx="0.3" fill="#1f3864" opacity="0.8"/>
<rect x="665.57" y="30.23" width="1" height="0.71" rx="0.3" fill="#1f3864" opacity="0.8"/>
<rect x="661.58" y="31.94" width="1" height="0.71" rx="0.3" fill="#1f3864" opacity="0.8"/>
<rect x="663.57" y="31.94" width="1" height="0.71" rx="0.3" fill="#1f3864" opacity="0.8"/>
<rect x="665.57" y="31.94" width="1" height="0.71" rx="0.3" fill="#1f3864" opacity="0.8"/>
<rect x="662.43" y="33.93" width="0.71" height="2.85" rx="0.3" fill="#1f3864" opacity="0.8"/>
<rect x="664.93" y="33.93" width="0.71" height="2.85" rx="0.3" fill="#1f3864" opacity="0.8"/>
<rect x="666.56" y="33.93" width="0.57" height="2.85" rx="0.3" fill="#1f3864" opacity="0.8"/>
<rect x="650.19" y="32.65" width="1.57" height="1.14" rx="0.3" fill="#1f3864" opacity="0.8"/>
<rect x="654.46" y="32.65" width="1.57" height="1.14" rx="0.3" fill="#1f3864" opacity="0.8"/>
<rect x="652.47" y="34.64" width="1.42" height="2.28" rx="0.3" fill="#1f3864" opacity="0.8"/>
<rect x="631.69" y="36.63" width="1.85" height="0.85" rx="0.3" fill="#1f3864" opacity="0.8"/>
<rect x="634.68" y="36.63" width="1.42" height="0.85" rx="0.3" fill="#1f3864" opacity="0.8"/>
<rect x="631.12" y="33.07" width="5.69" height="0.43" rx="0.3" fill="#1f3864" opacity="0.8"/>
<rect x="638.59" y="33.57" width="1.57" height="1.85" rx="0.3" fill="#1f3864" opacity="0.8"/>
<rect x="642.65" y="33.93" width="1.57" height="2.14" rx="0.3" fill="#1f3864" opacity="0.8"/>
<rect x="645.35" y="35.71" width="1.42" height="1.14" rx="0.3" fill="#1f3864" opacity="0.8"/>
<rect x="673.82" y="35.71" width="1.14" height="2.85" rx="0.3" fill="#1f3864" opacity="0.8"/>
<rect x="677.02" y="37.49" width="0.71" height="1.71" rx="0.3" fill="#1f3864" opacity="0.8"/>
<text x="626.7" y="60.2" class="s" fill="#fff" stroke="#fff" stroke-width="0.8" stroke-linejoin="round" style="font-size:21.6px" textLength="55.6" lengthAdjust="spacingAndGlyphs">TOUS</text>
<text x="626.6" y="72.3" class="s" fill="#fff" stroke="#fff" stroke-width="0.45" stroke-linejoin="round" style="font-size:11.8px" textLength="55.8" lengthAdjust="spacingAndGlyphs">ACTEURS</text>
<ellipse cx="646.86" cy="52.49" rx="4.6" ry="5.6" fill="#fff"/>
<path d="M646.86 47.29C651.06 51.99 650.26 58.09 646.86 58.09C643.46 58.09 642.66 51.99 646.86 47.29Z" fill="#1f3864"/>
<path d="M647.16 51.29C648.86 53.99 648.46 57.09 647.16 57.09C645.86 57.09 645.46 53.99 647.16 51.29Z" fill="#fff"/>
</g>
<g id="truck">
<ellipse cx="794" cy="72.6" rx="81" ry="4.4" fill="#f8f5ea"/>
<ellipse cx="794" cy="73" rx="70" ry="2.6" fill="#f3eedf"/>
<rect x="745.84" y="56.83" width="88.29" height="11.37" fill="#2c2226"/>
<rect x="790.24" y="61" width="25.17" height="2.2" fill="#8b8b8f"/>
<rect x="790.24" y="66.6" width="25.17" height="1.8" fill="#8b8b8f"/>
<rect x="815.41" y="59.4" width="16.05" height="9.6" fill="#d9d9db"/>
<rect x="820.49" y="59.4" width="0.9" height="9.6" fill="#77777b"/>
<rect x="826.11" y="59.4" width="0.9" height="9.6" fill="#77777b"/>
<polygon points="745.44,12.44 753.06,12.7 746.11,57.5 744.1,67.53 723.37,68.47 715.35,62.85 715.35,44.13 718.29,42.79 718.29,32.09 736.75,14.04" fill="#ececec"/>
<polygon points="718.29,44.13 743.43,44.8 744.1,67.53 723.37,68.47 715.35,62.85 715.35,44.13" fill="#e3e3e4"/>
<polygon points="723.37,31.43 736.75,16.05 748.78,16.05 744.1,44.13 723.37,44.13" fill="#f4f4f4" opacity="0.8"/>
<path d="M743.43 26.75L736.75 31.43L736.08 35.44L743.43 44.13" fill="none" stroke="#9a9a9a" stroke-width="1.2"/>
<path d="M728.72 47.47Q733.4 53.49 724.71 58.84" fill="none" stroke="#555" stroke-width="0.7"/>
<rect x="733.8" y="48.14" width="2.6" height="4.6" fill="#444"/>
<rect x="737.15" y="46.14" width="2.8" height="6" fill="#3a3a3a"/>
<rect x="737.68" y="46.8" width="1.6" height="2" fill="#e0452e"/>
<rect x="718.02" y="33.43" width="1.6" height="4" fill="#d9694a"/>
<rect x="722.7" y="60.44" width="4" height="1" fill="#f0a050"/>
<polygon points="753.06,13.11 830.75,13.11 830.75,55.9 746.37,55.9" fill="#e8e8e8"/>
<polygon points="753.06,13.11 830.75,13.11 830.75,15.78 752.66,15.78" fill="#f1f1f1"/>
<polygon points="747.18,51.48 830.75,51.48 830.75,55.9 746.37,55.9" fill="#e0e0e0"/>
<path d="M752.52 13.37L745.84 56.83" stroke="#a9a9a9" stroke-width="0.7" fill="none"/>
<path d="M778.2 16.05C795.58 17.38 804.04 22.73 804.04 30.76L804.04 48.81L830.79 48.81L830.79 16.05Z" fill="#2ba85d"/>
<rect x="752.52" y="53.76" width="5" height="1.1" fill="#f0a050"/>
<rect x="821.69" y="53.76" width="5" height="1.1" fill="#f0a050"/>
<rect x="832.26" y="12.3" width="1.6" height="2" fill="#f0a050"/>
<path d="M834.4 9.09Q836.54 9.36 836.54 12.7V53.49" fill="none" stroke="#e3e3e3" stroke-width="2.4"/>
<rect x="835.2" y="28.75" width="2.6" height="9" fill="#9d9d9d"/>
<polygon points="832.52,49.48 836.14,40.12 838.41,40.12 838.41,54.83 832.52,54.83" fill="#3a3236"/>
<path d="M839.75 26.75Q839.75 23.8 842.82 23.8L868.23 23.8Q870.24 24.07 870.77 28.75L872.64 44.13V60.18H839.75Z" fill="#e6e6e6"/>
<rect x="850.44" y="40.12" width="17.12" height="19.39" fill="#dcdcdc"/>
<polygon points="842.15,29.02 849.64,29.02 849.64,40.12 842.42,39.58" fill="#2a58a8"/>
<polygon points="851.51,29.02 866.49,29.02 866.49,43.06 851.51,40.39" fill="#2452a3"/>
<polygon points="867.29,29.02 869.97,29.02 871.57,44.13 867.29,43.06" fill="#2f5eae"/>
<polygon points="851.78,38.78 862.21,32.09 866.49,35.04 866.49,43.06 851.78,40.39" fill="#3e6fc2" opacity="0.55"/>
<polygon points="849.64,28.35 851.51,28.35 851.51,40.79 849.64,40.52" fill="#2b2b31"/>
<polygon points="866.22,28.35 867.56,28.35 867.56,43.46 866.22,43.06" fill="#3a3a3e"/>
<rect x="851.25" y="47.87" width="4.6" height="1.8" fill="#333"/>
<rect x="863.01" y="21.4" width="2.6" height="2.6" rx="0.8" fill="#f0a040"/>
<path d="M850.85 60.18H872.91V68.87Q872.91 69.8 870.24 69.8H850.85Z" fill="#2c2226"/>
<rect x="867.96" y="60.85" width="4.6" height="3.6" fill="#f6e9c8"/>
<path d="M831.95 68.53A10.2 10.2 0 0 1 852.35 68.53Z" fill="#2c2226"/>
<circle cx="757.47" cy="67.63" r="7.7" fill="#2a1f23"/>
<circle cx="757.47" cy="67.63" r="5" fill="#b9b9bd"/>
<circle cx="757.47" cy="67.63" r="3.9" fill="#4b4a50"/>
<circle cx="757.47" cy="67.63" r="2.9" fill="#d2d2d6"/>
<circle cx="757.47" cy="67.63" r="1.2" fill="#77777c"/>
<circle cx="779.54" cy="67.63" r="7.7" fill="#2a1f23"/>
<circle cx="779.54" cy="67.63" r="5" fill="#b9b9bd"/>
<circle cx="779.54" cy="67.63" r="3.9" fill="#4b4a50"/>
<circle cx="779.54" cy="67.63" r="2.9" fill="#d2d2d6"/>
<circle cx="779.54" cy="67.63" r="1.2" fill="#77777c"/>
<circle cx="842.15" cy="67.63" r="7.7" fill="#2a1f23"/>
<circle cx="842.15" cy="67.63" r="5" fill="#b9b9bd"/>
<circle cx="842.15" cy="67.63" r="3.9" fill="#4b4a50"/>
<circle cx="842.15" cy="67.63" r="2.9" fill="#d2d2d6"/>
<circle cx="842.15" cy="67.63" r="1.2" fill="#77777c"/>
<path d="M768 31.39L768.76 31.4L769.45 31.22L770.12 31.02L770.78 30.8L771.43 30.55L772.07 30.29L772.71 30L773.33 29.68L773.93 29.35L774.51 28.96L775.06 28.52L775.58 28.04L776.07 27.51L776.45 26.82L776.4 26.75L775.62 26.78L774.94 26.97L774.27 27.19L773.63 27.44L773.02 27.73L772.43 28.06L771.85 28.41L771.27 28.77L770.7 29.13L770.13 29.51L769.56 29.91L769 30.31L768.45 30.73L767.96 31.31Z" fill="#e8423a"/>
<path d="M766.98 30.49L767.68 30.36L768.25 30.07L768.81 29.76L769.36 29.43L769.89 29.08L770.41 28.71L770.91 28.32L771.4 27.91L771.86 27.48L772.29 27.01L772.68 26.49L773.02 25.94L773.33 25.36L773.5 24.64L773.43 24.58L772.72 24.76L772.15 25.06L771.6 25.38L771.08 25.73L770.6 26.12L770.15 26.54L769.71 26.97L769.27 27.42L768.85 27.87L768.43 28.33L768.02 28.8L767.61 29.28L767.21 29.78L766.93 30.42Z" fill="#e8423a"/>
<path d="M765.77 29.87L766.38 29.63L766.84 29.26L767.28 28.88L767.7 28.48L768.1 28.06L768.49 27.63L768.85 27.18L769.19 26.72L769.52 26.25L769.79 25.74L770.01 25.2L770.18 24.63L770.31 24.04L770.27 23.36L770.2 23.31L769.58 23.6L769.12 23.98L768.7 24.37L768.31 24.79L767.97 25.22L767.66 25.69L767.37 26.16L767.08 26.64L766.81 27.12L766.54 27.62L766.29 28.13L766.04 28.64L765.8 29.17L765.7 29.81Z" fill="#e8423a"/>
<path d="M764.35 29.54L764.86 29.22L765.19 28.81L765.5 28.38L765.79 27.95L766.06 27.5L766.3 27.05L766.53 26.58L766.73 26.1L766.9 25.62L767.02 25.11L767.08 24.59L767.08 24.05L767.04 23.51L766.81 22.91L766.73 22.89L766.22 23.27L765.89 23.69L765.6 24.12L765.35 24.56L765.14 25.01L764.98 25.48L764.84 25.95L764.7 26.43L764.58 26.91L764.46 27.4L764.36 27.89L764.27 28.4L764.19 28.91L764.27 29.5Z" fill="#e8423a"/>
<path d="M762.89 29.59L763.3 29.22L763.52 28.8L763.71 28.37L763.88 27.94L764.02 27.5L764.14 27.06L764.24 26.61L764.31 26.16L764.35 25.7L764.34 25.24L764.26 24.78L764.13 24.32L763.95 23.86L763.58 23.4L763.49 23.4L763.1 23.84L762.89 24.27L762.71 24.7L762.58 25.12L762.5 25.55L762.47 25.98L762.44 26.41L762.44 26.85L762.44 27.28L762.46 27.72L762.48 28.17L762.52 28.62L762.57 29.08L762.81 29.58Z" fill="#e8423a"/>
<path d="M761.24 30.15L761.53 29.74L761.63 29.33L761.7 28.93L761.75 28.53L761.77 28.12L761.77 27.72L761.74 27.32L761.69 26.92L761.61 26.53L761.47 26.15L761.28 25.79L761.03 25.45L760.74 25.12L760.26 24.85L760.17 24.88L759.91 25.35L759.83 25.77L759.77 26.17L759.76 26.56L759.79 26.93L759.87 27.29L759.96 27.65L760.07 28L760.19 28.36L760.32 28.72L760.46 29.08L760.62 29.44L760.79 29.8L761.15 30.16Z" fill="#f2a23a"/>
<path d="M759.7 31.34L759.88 30.91L759.88 30.55L759.85 30.19L759.79 29.85L759.71 29.51L759.61 29.18L759.49 28.86L759.34 28.55L759.17 28.25L758.95 27.99L758.68 27.75L758.37 27.56L758.01 27.39L757.51 27.35L757.44 27.4L757.32 27.88L757.34 28.26L757.38 28.6L757.46 28.92L757.58 29.2L757.74 29.47L757.91 29.73L758.09 29.98L758.29 30.22L758.49 30.47L758.71 30.71L758.95 30.95L759.2 31.19L759.62 31.37Z" fill="#f2a23a"/>
<path d="M758.67 32.98L758.75 32.56L758.69 32.26L758.59 31.97L758.48 31.7L758.34 31.44L758.19 31.19L758.01 30.96L757.82 30.75L757.61 30.56L757.36 30.41L757.07 30.31L756.75 30.26L756.41 30.25L755.97 30.41L755.92 30.48L755.92 30.94L756 31.25L756.11 31.53L756.24 31.76L756.39 31.96L756.57 32.12L756.77 32.27L756.97 32.41L757.19 32.54L757.42 32.67L757.65 32.79L757.91 32.91L758.18 33.02L758.59 33.03Z" fill="#3fae5a"/>
<path d="M758.25 35.06L758.27 34.67L758.16 34.44L758.04 34.22L757.89 34.02L757.74 33.83L757.56 33.67L757.37 33.53L757.17 33.41L756.95 33.32L756.72 33.28L756.47 33.3L756.2 33.37L755.93 33.5L755.63 33.82L755.6 33.9L755.71 34.32L755.84 34.57L755.97 34.77L756.11 34.93L756.26 35.04L756.42 35.11L756.59 35.16L756.78 35.2L756.96 35.23L757.16 35.25L757.37 35.27L757.6 35.28L757.84 35.28L758.19 35.14Z" fill="#3fae5a"/>
<path d="M758.76 37.42L758.71 37.06L758.58 36.88L758.44 36.72L758.28 36.58L758.11 36.46L757.93 36.37L757.74 36.31L757.55 36.27L757.36 36.26L757.16 36.31L756.97 36.42L756.8 36.58L756.64 36.8L756.52 37.2L756.54 37.29L756.75 37.65L756.91 37.83L757.06 37.97L757.19 38.07L757.32 38.11L757.44 38.12L757.56 38.11L757.69 38.08L757.83 38.04L757.97 37.98L758.13 37.92L758.29 37.85L758.47 37.76L758.73 37.51Z" fill="#3fae5a"/>
<path d="M760.07 39.22L759.88 38.9L759.69 38.78L759.5 38.69L759.3 38.63L759.1 38.59L758.9 38.58L758.7 38.59L758.51 38.63L758.32 38.7L758.16 38.81L758.03 38.99L757.94 39.21L757.87 39.47L757.93 39.89L757.97 39.96L758.3 40.21L758.53 40.31L758.72 40.38L758.88 40.42L759.01 40.42L759.13 40.37L759.24 40.31L759.34 40.24L759.45 40.15L759.56 40.04L759.68 39.92L759.81 39.79L759.94 39.64L760.08 39.31Z" fill="#3fae5a"/>
<circle cx="765.02" cy="34.7" r="4.1" fill="none" stroke="#3b6fd0" stroke-width="1.6"/>
<circle cx="769.42" cy="35.6" r="4.6" fill="#e8e8e8"/>
<path d="M772.02 32.7A3.9 3.9 0 1 0 772.02 38.5" fill="none" stroke="#f2b233" stroke-width="1.6"/>
<text x="774.99" y="35.04" class="s" fill="#3b6fd0" style="font-size:2.9px" textLength="23.4" lengthAdjust="spacingAndGlyphs">ROMORANTINAIS</text>
<text x="774.99" y="39.32" class="s" fill="#3b6fd0" style="font-size:2.9px" textLength="23.4" lengthAdjust="spacingAndGlyphs"><tspan fill="#f2b233">ET</tspan> MONESTOIS</text>
<path d="M796.42 25.41Q799.36 21.4 802.04 21.13" fill="none" stroke="#f5c63c" stroke-width="0.9" stroke-linecap="round"/>
<path d="M796.95 26.21Q801.37 22.73 804.98 23" fill="none" stroke="#f5c63c" stroke-width="0.9" stroke-linecap="round"/>
<path d="M798.02 26.75Q802.7 24.74 807.38 25.41" fill="none" stroke="#f5c63c" stroke-width="0.9" stroke-linecap="round"/>
<path d="M810.73 26.21L813.4 23L817.41 21.4L820.09 23.4L824.1 22.06L826.77 26.21Z" fill="#fff"/>
<text x="810.06" y="33.43" class="s" fill="#fff" stroke="#fff" stroke-width="0.25" style="font-size:7.6px" textLength="17.4" lengthAdjust="spacingAndGlyphs">TOUS</text>
<text x="810.06" y="37.04" class="s" fill="#fff" style="font-size:3.9px" textLength="17.4" lengthAdjust="spacingAndGlyphs">ACTEURS</text>
<text x="810.06" y="41.19" class="s" fill="#fff" style="font-size:2.4px" textLength="17.4" lengthAdjust="spacingAndGlyphs">PRÉVENTION</text>
<text x="810.06" y="43.86" class="s" fill="#fff" style="font-size:2.4px" textLength="17.4" lengthAdjust="spacingAndGlyphs">des DÉCHETS</text>
</g>
<g id="legend">
<text x="701.3" y="105" class="b" fill="#002060" textLength="71.3" lengthAdjust="spacing">Villeherviers :</text>
<path d="M701 106.5h71.8" stroke="#1d3575" stroke-width="1.3" fill="none"/>
<text x="701.3" y="125" fill="#002060" textLength="155.7" lengthAdjust="spacing">Collecte des ordures ménagères :</text>
<text x="701.3" y="145" fill="#002060" textLength="110.2" lengthAdjust="spacing">Collecte du tri sélectif :</text>
<text x="701.3" y="185" class="b" fill="#002060" textLength="119.5" lengthAdjust="spacing">Secteur Petit Camion* :</text>
<path d="M701 186.7h120" stroke="#1d3575" stroke-width="1.3" fill="none"/>
<text x="701.3" y="205" fill="#002060" textLength="155.7" lengthAdjust="spacing">Collecte des ordures ménagères :</text>
<text x="701.3" y="225" fill="#002060" textLength="110.2" lengthAdjust="spacing">Collecte du tri sélectif :</text>
<text x="769.6" y="268" class="b" fill="#002060" textLength="40.4" lengthAdjust="spacing">Rappels</text>
<path d="M769.3 270h40.9" stroke="#1d3575" stroke-width="1.3" fill="none"/>
<text x="701.3" y="289" fill="#002060" style="word-spacing:2.481px">• Sortez votre poubelle la veille au</text>
<text x="701.3" y="302" fill="#002060">soir.</text>
<text x="701.3" y="329" fill="#002060" style="word-spacing:-0.722px">• En période de travaux, déposez votre</text>
<text x="701.3" y="343" fill="#002060" style="word-spacing:3.927px">poubelle en dehors de la zone de</text>
<text x="701.3" y="356" fill="#002060">travaux.</text>
<circle cx="876.6" cy="118.8" r="5.3" fill="#a86c38" stroke="#0d0d12" stroke-width="1.3"/>
<circle cx="876.6" cy="138.8" r="5.3" fill="#ffff00" stroke="#0d0d12" stroke-width="1.3"/>
<circle cx="876.6" cy="199" r="5.3" fill="#a86c38" stroke="#0d0d12" stroke-width="1.3"/>
<rect x="871.2" y="212.8" width="10.8" height="10.8" rx="0.5" fill="#ffff00" stroke="#0d0d12" stroke-width="1.3"/>
</g>
<g id="badge">
<circle cx="799.3" cy="469.8" r="83.4" fill="#fff" stroke="#d7262b" stroke-width="5.7"/>
<circle cx="799.5" cy="469.1" r="48.9" fill="none" stroke="#d8262c" stroke-width="0.8"/>
<path d="M 769.8 460.36 C 763.44 462.06 760.75 471.68 761.6 481.58 C 761.88 488.65 764.14 490.91 768.39 491.2 L 779 491.2 C 783.66 490.35 785.36 487.23 785.36 478.75 C 785.64 468.85 783.95 462.06 779 460.36 Z" fill="#f8b511"/>
<path d="M 769.8 460.36 C 765.56 462.06 763.44 470.26 763.86 478.75 C 766.97 467.43 775.46 462.06 779 460.36 Z" fill="#fbc530" opacity="0.8"/>
<circle cx="774.33" cy="454.99" r="5.3" fill="#fde255"/>
<circle cx="774.33" cy="455.27" r="3.6" fill="#fbd63a"/>
<path d="M 771.22 459.37 L 777.72 459.37 L 778.01 460.64 L 770.93 460.64 Z" fill="#e0552c"/>
<path d="M 819.31 459.65 C 813.65 461.49 811.67 467.43 813.08 475.92 C 813.93 484.41 816.48 490.35 820.72 491.48 C 826.38 492.61 833.45 491.48 836.56 488.65 C 837.98 481.58 837.98 470.26 834.87 463.9 C 832.74 460.64 829.21 459.51 827.09 459.23 Z" fill="#1b191a"/>
<path d="M 816.2 451.87 C 817.89 450.74 820.72 452.72 822.84 452.16 C 825.67 451.31 828.5 452.16 830.34 453.57 C 829.21 455.41 827.51 456.82 827.09 459.51 L 819.59 459.79 C 819.59 456.82 817.61 454.7 816.2 451.87 Z" fill="#1b191a"/>
<path d="M 820.72 457.39 L 825.67 457.39 L 825.67 458.66 L 820.72 458.66 Z" fill="#c9383a"/>
<path d="M 816.48 467.43 C 817.89 473.09 820.72 481.58 823.55 487.23" fill="none" stroke="#3a3839" stroke-width="0.6"/>
<path d="M 797.38 454.99 C 791.02 457.81 785.36 464.6 783.95 475.92 C 783.38 484.41 782.81 490.06 781.68 492.61 C 786.78 494.59 796.68 494.87 806.58 494.31 C 812.23 494.02 816.48 492.89 817.89 491.48 C 817.33 484.41 817.61 471.68 812.23 463.19 C 809.41 458.95 806.58 456.4 804.03 454.99 Z" fill="#e3e4e6"/>
<path d="M 797.38 454.99 C 792.43 458.24 788.19 466.02 787.06 474.5 C 792.43 467.43 802.33 466.02 812.23 463.19 C 809.41 458.95 806.58 456.4 804.03 454.99 Z" fill="#f1f1f3"/>
<path d="M 785.36 487.23 C 792.43 491.48 806.58 491.48 816.48 487.23 L 817.89 491.48 C 812.23 494.31 792.43 495.16 781.68 492.61 Z" fill="#d3d4d7"/>
<path d="M 793.56 443.67 C 795.97 442.26 798.8 444.52 800.92 442.82 C 803.47 444.24 806.29 442.26 808.56 443.95 C 807.28 447.63 804.46 450.46 804.03 454 L 797.52 454 C 797.38 450.46 794.98 447.63 793.56 443.67 Z" fill="#ececee"/>
<path d="M 797.24 453.57 L 804.31 453.57 L 804.31 455.27 L 797.24 455.27 Z" fill="#a4a6aa"/>
<path d="M 788.19 475.92 C 795.26 474.5 803.75 475.92 810.82 474.79" fill="none" stroke="#c9cacd" stroke-width="0.7"/>
<path d="M764.14 434.34L832.89 502.79" stroke="#d8262c" stroke-width="1.5" fill="none"/>
<defs><path id="arcTop" d="M733.65 478.33A66.2 66.2 0 1 1 864.37 481.98"/><path id="arcBot" d="M728.79 488.69A73.0 73.0 0 0 0 869.29 490.53"/></defs>
<text class="s" fill="#111" stroke="#111" stroke-width="0.5" stroke-linejoin="round" style="font-size:12.2px;letter-spacing:1.4px" textLength="228.77" lengthAdjust="spacingAndGlyphs"><textPath href="#arcTop">– DÉPOSEZ VOS DÉCHETS EN VRAC, SANS SAC ! –</textPath></text>
<text class="s" fill="#111" stroke="#111" stroke-width="0.5" stroke-linejoin="round" style="font-size:12.2px;letter-spacing:1.4px" textLength="189.2" lengthAdjust="spacingAndGlyphs"><textPath href="#arcBot">DANS LES BACS JAUNES PAS DE SAC</textPath></text>
</g>
<g id="footer">
<text x="15.2" y="589" fill="#002060" style="font-size:10.68px"><tspan class="b">*Liste des Lieux-dits collecte Petit-Camion :</tspan> <tspan textLength="642.6" lengthAdjust="spacing">la Jarrie, les Quatre Vents, la Joualinière, la Coudre, Champvioux, Pont Gitton, le Petit Migelier, la Grande Béole, les Tourneux, Petite Ville, Planche-</tspan></text>
<path d="M15 590.9h201.06" stroke="#1d3575" stroke-width="1.2" fill="none"/>
<text x="15.2" y="603" fill="#002060" style="font-size:10.68px">Thibaud,les Roches, la Bernazerie, la Souchonnerie, Grandes Bruyères, la Gaillardière, la Repernellerie, Beauval, le Glandier, la Griffonnerie, les Fontenils, la Pasterie, le Portail.</text>
</g>
</svg>
</body>
</html>
